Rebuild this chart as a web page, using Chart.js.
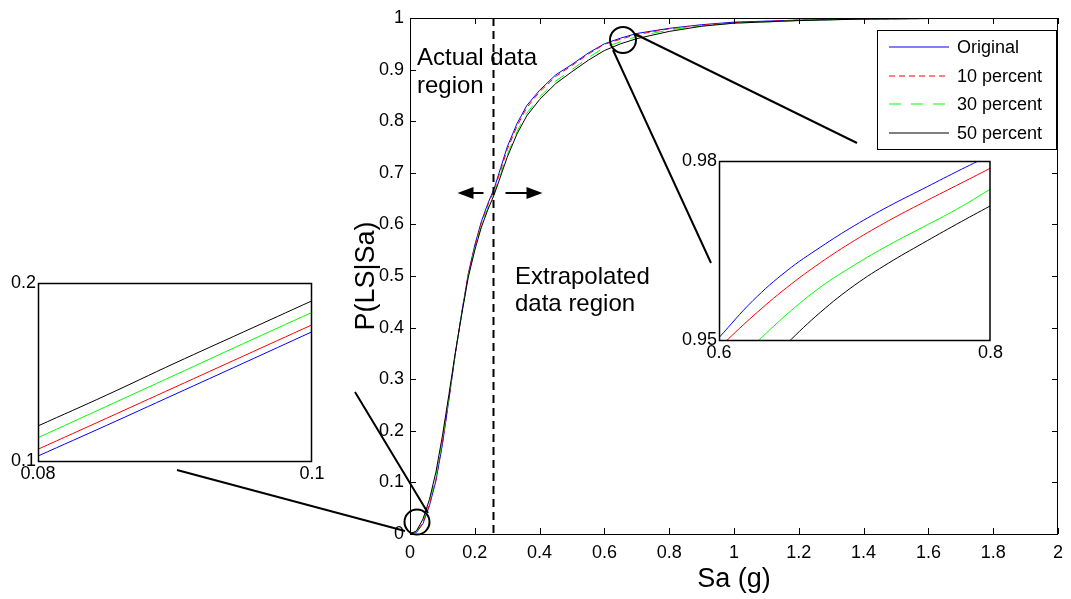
<!DOCTYPE html>
<html>
<head>
<meta charset="utf-8">
<script src="https://cdn.jsdelivr.net/npm/chart.js@4.4.1/dist/chart.umd.min.js"></script>
<style>
  body { margin: 0; background: #fff; }
  #wrap { position: relative; width: 1071px; height: 599px; }
  canvas { position: absolute; }
</style>
</head>
<body>
<div id="wrap">
  <canvas id="main" width="1071" height="599" style="left:0;top:0"></canvas>
  <canvas id="lowInset" width="340" height="220" style="left:0;top:265px"></canvas>
  <canvas id="highInset" width="345" height="225" style="left:660px;top:140px"></canvas>
</div>
<script>
// main curves: fragility P(LS|Sa) against Sa (g)
const saValues = [0, 0.02, 0.04, 0.06, 0.08, 0.1, 0.12, 0.14, 0.16, 0.18, 0.2, 0.22, 0.24, 0.26, 0.28, 0.3, 0.33, 0.36, 0.4, 0.45, 0.5, 0.55, 0.6, 0.65, 0.7, 0.8, 0.9, 1.0, 1.2, 1.4, 1.6, 1.8, 2.0];
const originalPLS = [0, 0.003, 0.02, 0.055, 0.103, 0.173, 0.26, 0.35, 0.43, 0.505, 0.56, 0.605, 0.64, 0.67, 0.71, 0.75, 0.795, 0.83, 0.86, 0.89, 0.91, 0.932, 0.950, 0.961, 0.970, 0.980, 0.987, 0.992, 0.996, 0.998, 0.999, 1, 1];
const tenPercentPLS = [0, 0.004, 0.022, 0.057, 0.106, 0.176, 0.262, 0.35, 0.43, 0.503, 0.558, 0.602, 0.637, 0.667, 0.705, 0.745, 0.79, 0.826, 0.857, 0.887, 0.908, 0.93, 0.949, 0.959, 0.968, 0.979, 0.986, 0.991, 0.996, 0.998, 0.999, 1, 1];
const thirtyPercentPLS = [0, 0.005, 0.026, 0.062, 0.113, 0.183, 0.265, 0.35, 0.428, 0.5, 0.553, 0.597, 0.632, 0.662, 0.698, 0.735, 0.78, 0.815, 0.847, 0.878, 0.9, 0.923, 0.943, 0.954, 0.964, 0.977, 0.985, 0.99, 0.995, 0.998, 0.999, 1, 1];
const fiftyPercentPLS = [0, 0.006, 0.029, 0.067, 0.12, 0.19, 0.27, 0.352, 0.427, 0.498, 0.55, 0.594, 0.628, 0.658, 0.694, 0.73, 0.775, 0.81, 0.842, 0.873, 0.896, 0.918, 0.937, 0.95, 0.96, 0.974, 0.984, 0.99, 0.995, 0.998, 0.999, 1, 1];
const seriesNames = ['Original', '10 percent', '30 percent', '50 percent'];
const mainXTicks = [0, 0.2, 0.4, 0.6, 0.8, 1, 1.2, 1.4, 1.6, 1.8, 2];
const mainYTicks = [0, 0.1, 0.2, 0.3, 0.4, 0.5, 0.6, 0.7, 0.8, 0.9, 1];
const boundarySa = 0.255;

// zoom near the origin
const lowSa = [0.08, 0.085, 0.09, 0.095, 0.1];
const lowOriginal = [0.1028, 0.120, 0.1375, 0.155, 0.1726];
const lowTen = [0.1066, 0.124, 0.1415, 0.159, 0.1765];
const lowThirty = [0.1131, 0.1307, 0.1483, 0.166, 0.1835];
const lowFifty = [0.1197, 0.137, 0.155, 0.1725, 0.19];
const lowXTicks = [0.08, 0.1];
const lowYTicks = [0.1, 0.2];

// zoom near the top
const highSa = [0.6, 0.625, 0.65, 0.675, 0.7, 0.725, 0.75, 0.775, 0.8];
const highOriginal = [0.9504, 0.9566, 0.9616, 0.9656, 0.9692, 0.9724, 0.9753, 0.9782, 0.9810];
const highTen = [0.9487, 0.9540, 0.9588, 0.9630, 0.9667, 0.9700, 0.9730, 0.9759, 0.9788];
const highThirty = [0.9434, 0.9490, 0.9543, 0.9589, 0.9626, 0.9659, 0.9689, 0.9719, 0.9753];
const highFifty = [0.9372, 0.9436, 0.9494, 0.9547, 0.9592, 0.9629, 0.9662, 0.9694, 0.9725];
const highXTicks = [0.6, 0.8];
const highYTicks = [0.95, 0.98];

const FONT = "'Liberation Sans', Arial, sans-serif";
const lineColors = ['#0000ff', '#ff0000', '#00ff00', '#000000'];
const lineDashes = [[], [6, 4], [12, 10], []];

function pts(xs, ys) {
  return xs.map((x, i) => ({ x: x, y: ys[i] }));
}

function drawArrow(ctx, x0, x1, y) {
  const dir = Math.sign(x1 - x0);
  ctx.beginPath();
  ctx.moveTo(x0, y);
  ctx.lineTo(x1 - dir * 14, y);
  ctx.stroke();
  ctx.beginPath();
  ctx.moveTo(x1, y);
  ctx.lineTo(x1 - dir * 16, y - 6);
  ctx.lineTo(x1 - dir * 16, y + 6);
  ctx.closePath();
  ctx.fill();
}

const mainOverlay = {
  id: 'mainOverlay',
  afterDraw(chart) {
    const ctx = chart.ctx;
    const a = chart.chartArea;
    const xs = chart.scales.x, ys = chart.scales.y;
    ctx.save();
    ctx.strokeStyle = '#000';
    ctx.fillStyle = '#000';
    ctx.lineWidth = 1;
    // box
    ctx.strokeRect(a.left + 0.5, a.top + 0.5, a.right - a.left - 1, a.bottom - a.top);
    // inward ticks
    ctx.beginPath();
    mainXTicks.forEach(v => {
      const px = Math.round(xs.getPixelForValue(v)) + 0.5;
      ctx.moveTo(px, a.bottom); ctx.lineTo(px, a.bottom - 6);
      ctx.moveTo(px, a.top); ctx.lineTo(px, a.top + 6);
    });
    mainYTicks.forEach(v => {
      const py = Math.round(ys.getPixelForValue(v)) + 0.5;
      ctx.moveTo(a.left, py); ctx.lineTo(a.left + 6, py);
      ctx.moveTo(a.right, py); ctx.lineTo(a.right - 6, py);
    });
    ctx.stroke();

    // boundary between actual and extrapolated data
    const bx = Math.round(xs.getPixelForValue(boundarySa)) + 0.5;
    ctx.lineWidth = 2;
    ctx.setLineDash([8, 5]);
    ctx.beginPath();
    ctx.moveTo(bx, a.top);
    ctx.lineTo(bx, a.bottom);
    ctx.stroke();
    ctx.setLineDash([]);
    drawArrow(ctx, bx - 10, bx - 36, 193);
    drawArrow(ctx, bx + 12, bx + 49, 193);

    // annotations
    ctx.font = '24px ' + FONT;
    ctx.textAlign = 'left';
    ctx.textBaseline = 'alphabetic';
    ctx.fillText('Actual data', 417, 65);
    ctx.fillText('region', 417, 93);
    ctx.fillText('Extrapolated', 515, 284);
    ctx.fillText('data region', 515, 311);

    // zoom circles and connector lines
    ctx.lineWidth = 2;
    ctx.beginPath();
    ctx.arc(417, 522, 12.5, 0, Math.PI * 2);
    ctx.stroke();
    ctx.beginPath();
    ctx.arc(623, 40, 13, 0, Math.PI * 2);
    ctx.stroke();
    ctx.beginPath();
    ctx.moveTo(355, 392); ctx.lineTo(428, 513);
    ctx.moveTo(177, 470); ctx.lineTo(405, 531);
    ctx.moveTo(613, 50); ctx.lineTo(711, 263);
    ctx.moveTo(635, 34); ctx.lineTo(857, 143);
    ctx.stroke();

    // axis titles
    ctx.font = '27px ' + FONT;
    ctx.textAlign = 'center';
    ctx.fillText('Sa (g)', (a.left + a.right) / 2, 587);
    ctx.save();
    ctx.translate(374, (a.top + a.bottom) / 2);
    ctx.rotate(-Math.PI / 2);
    ctx.fillText('P(LS|Sa)', 0, 0);
    ctx.restore();
    ctx.restore();

    // legend
    ctx.save();
    ctx.fillStyle = '#ffffff';
    ctx.fillRect(877, 30, 179, 119);
    ctx.lineWidth = 1;
    ctx.strokeStyle = '#000000';
    ctx.strokeRect(877.5, 30.5, 179, 119);
    ctx.font = '18px ' + FONT;
    ctx.textAlign = 'left';
    ctx.textBaseline = 'middle';
    const rowY = [47, 76, 104, 133];
    for (let i = 0; i < seriesNames.length; i++) {
      ctx.save();
      ctx.strokeStyle = lineColors[i];
      ctx.lineWidth = 1.2;
      ctx.setLineDash(lineDashes[i]);
      ctx.beginPath();
      ctx.moveTo(889, rowY[i]);
      ctx.lineTo(949, rowY[i]);
      ctx.stroke();
      ctx.restore();
      ctx.fillStyle = '#000000';
      ctx.fillText(seriesNames[i], 957, rowY[i] + 1);
    }
    ctx.restore();
  }
};

new Chart(document.getElementById('main'), {
  type: 'line',
  data: {
    datasets: [originalPLS, tenPercentPLS, thirtyPercentPLS, fiftyPercentPLS].map((ys, i) => ({
      label: seriesNames[i],
      data: pts(saValues, ys),
      borderColor: lineColors[i],
      borderWidth: 1,
      borderDash: lineDashes[i].slice(),
      pointRadius: 0,
      tension: 0,
      fill: false,
      order: 4 - i
    }))
  },
  options: {
    responsive: false,
    animation: false,
    devicePixelRatio: 1,
    layout: { padding: { left: 0, right: 8, top: 18, bottom: 0 } },
    plugins: { legend: { display: false }, tooltip: { enabled: false } },
    scales: {
      x: {
        type: 'linear', min: 0, max: 2,
        afterBuildTicks: s => { s.ticks = mainXTicks.map(v => ({ value: v })); },
        afterFit: s => { s.height = 65; },
        grid: { display: false, drawTicks: false },
        border: { display: false },
        ticks: { color: '#000', padding: 8, maxRotation: 0, font: { family: FONT, size: 18 }, callback: v => String(v) }
      },
      y: {
        type: 'linear', min: 0, max: 1,
        afterBuildTicks: s => { s.ticks = mainYTicks.map(v => ({ value: v })); },
        afterFit: s => { s.width = 410; },
        grid: { display: false, drawTicks: false },
        border: { display: false },
        ticks: { color: '#000', padding: 6, font: { family: FONT, size: 18 }, callback: v => String(v) }
      }
    }
  },
  plugins: [mainOverlay]
});

const insetFrame = {
  id: 'insetFrame',
  beforeDraw(chart) {
    const a = chart.chartArea;
    chart.ctx.save();
    chart.ctx.fillStyle = '#fff';
    chart.ctx.fillRect(a.left, a.top, a.right - a.left, a.bottom - a.top);
    chart.ctx.restore();
  },
  afterDraw(chart) {
    const a = chart.chartArea;
    const ctx = chart.ctx;
    ctx.save();
    ctx.strokeStyle = '#000';
    ctx.lineWidth = 1.5;
    ctx.strokeRect(a.left + 0.5, a.top + 0.5, a.right - a.left - 1, a.bottom - a.top);
    ctx.restore();
  }
};

function makeInset(id, xs, seriesList, xTicks, yTicks, yWidth, pad, xHeight) {
  new Chart(document.getElementById(id), {
    type: 'line',
    data: {
      datasets: seriesList.map((ys, i) => ({
        label: seriesNames[i],
        data: pts(xs, ys),
        borderColor: lineColors[i],
        borderWidth: 1,
        pointRadius: 0,
        tension: 0.4,
        fill: false
      }))
    },
    options: {
      responsive: false,
      animation: false,
      devicePixelRatio: 1,
      layout: { padding: pad },
      plugins: { legend: { display: false }, tooltip: { enabled: false } },
      scales: {
        x: {
          type: 'linear', min: xTicks[0], max: xTicks[1],
          afterBuildTicks: s => { s.ticks = xTicks.map(v => ({ value: v })); },
          afterFit: s => { s.height = xHeight; },
          grid: { display: false, drawTicks: false },
          border: { display: false },
          ticks: { color: '#000', padding: 2, maxRotation: 0, autoSkip: false, font: { family: FONT, size: 18 }, callback: v => String(v) }
        },
        y: {
          type: 'linear', min: yTicks[0], max: yTicks[1],
          afterBuildTicks: s => { s.ticks = yTicks.map(v => ({ value: v })); },
          afterFit: s => { s.width = yWidth; },
          grid: { display: false, drawTicks: false },
          border: { display: false },
          ticks: { color: '#000', padding: 2, font: { family: FONT, size: 18 }, callback: v => String(v) }
        }
      }
    },
    plugins: [insetFrame]
  });
}

makeInset('lowInset', lowSa, [lowOriginal, lowTen, lowThirty, lowFifty], lowXTicks, lowYTicks,
  38, { left: 0, top: 18, right: 28, bottom: 0 }, 24);
makeInset('highInset', highSa, [highOriginal, highTen, highThirty, highFifty], highXTicks, highYTicks,
  59, { left: 0, top: 21, right: 13, bottom: 0 }, 25);
</script>
</body>
</html>
